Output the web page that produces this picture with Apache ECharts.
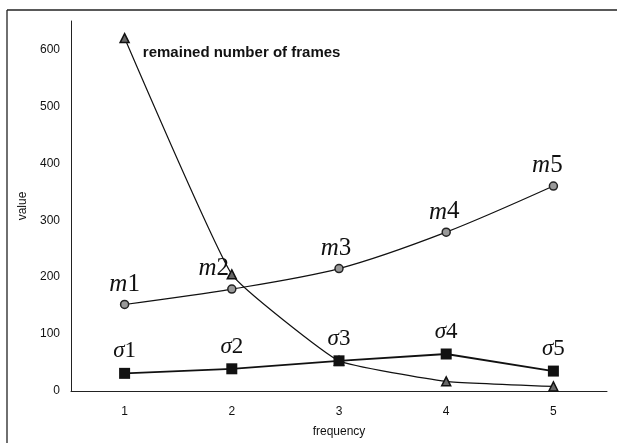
<!DOCTYPE html>
<html>
<head>
<meta charset="utf-8">
<script src="https://cdn.jsdelivr.net/npm/echarts@6/dist/echarts.min.js"></script>
<style>
  html, body { margin: 0; padding: 0; background: #fff; }
  #chart { width: 617px; height: 443px; }
</style>
</head>
<body>
<div id="chart"></div>
<script>
// Frequency levels on the horizontal axis
const frequencies = ['1', '2', '3', '4', '5'];
// Remaining number of frames per frequency
const remainedFrames = [620, 205, 53, 17, 8];
// Mean values m1..m5
const meanValues = [152, 179, 215, 279, 360];
// Standard deviations σ1..σ5
const sigmaValues = [31, 39, 53, 65, 35];
// Point labels
const meanLabels = ['1', '2', '3', '4', '5'];
const sigmaLabels = ['1', '2', '3', '4', '5'];
const meanLabelOffsets = [[0, 0], [-18, 0], [-3, 0], [-2, 0], [-6, 0]];

const chart = echarts.init(document.getElementById('chart'), null, { renderer: 'canvas' });

const serifRich = {
  it: { fontFamily: 'Liberation Serif', fontStyle: 'italic', fontSize: 25, color: '#111' },
  n: { fontFamily: 'Liberation Serif', fontSize: 25, color: '#111' }
};
const sigmaRich = {
  it: { fontFamily: 'Liberation Serif', fontStyle: 'italic', fontSize: 23, color: '#111' },
  n: { fontFamily: 'Liberation Serif', fontSize: 23, color: '#111' }
};

chart.setOption({
  animation: false,
  backgroundColor: '#fff',
  grid: { left: 71, right: 10, top: 21, bottom: 51, containLabel: false },
  graphic: [
    { type: 'line', shape: { x1: 7, y1: 10, x2: 617, y2: 10 }, style: { stroke: '#222', lineWidth: 1.3 } },
    { type: 'line', shape: { x1: 7, y1: 10, x2: 7, y2: 443 }, style: { stroke: '#222', lineWidth: 1.3 } }
  ],
  xAxis: {
    type: 'category',
    data: frequencies,
    boundaryGap: true,
    name: 'frequency',
    nameLocation: 'middle',
    nameGap: 35,
    nameTextStyle: { fontFamily: 'Liberation Sans', fontSize: 12, color: '#111' },
    axisLine: { lineStyle: { color: '#222', width: 1 } },
    axisTick: { show: false },
    axisLabel: { fontFamily: 'Liberation Sans', fontSize: 12, color: '#111', margin: 15 },
    splitLine: { show: false }
  },
  yAxis: {
    type: 'value',
    min: 0,
    max: 650,
    interval: 100,
    name: 'value',
    nameLocation: 'middle',
    nameGap: 38,
    nameTextStyle: { fontFamily: 'Liberation Sans', fontSize: 12, color: '#111' },
    axisLine: { show: true, lineStyle: { color: '#222', width: 1 } },
    axisTick: { show: false },
    axisLabel: { fontFamily: 'Liberation Sans', fontSize: 12, color: '#111', margin: 11, showMaxLabel: false },
    splitLine: { show: false }
  },
  series: [
    {
      name: 'remained number of frames',
      type: 'line',
      data: remainedFrames.map((v, i) => i === 0 ? {
        value: v,
        label: {
          show: true,
          position: 'right',
          offset: [8, 15],
          formatter: 'remained number of frames',
          fontFamily: 'Liberation Sans',
          fontWeight: 'bold',
          fontSize: 15,
          color: '#111'
        }
      } : v),
      smooth: 0.12,
      symbol: 'triangle',
      symbolSize: 9,
      lineStyle: { color: '#111', width: 1.2 },
      itemStyle: { color: '#666', borderColor: '#111', borderWidth: 1.5 },
      z: 3
    },
    {
      name: 'm',
      type: 'line',
      data: meanValues.map((v, i) => ({
        value: v,
        label: {
          show: true,
          position: 'top',
          distance: 3,
          offset: meanLabelOffsets[i],
          formatter: '{it|m}{n|' + meanLabels[i] + '}',
          rich: serifRich
        }
      })),
      smooth: 0.3,
      symbol: 'circle',
      symbolSize: 8,
      lineStyle: { color: '#111', width: 1.2 },
      itemStyle: { color: '#999', borderColor: '#222', borderWidth: 1.5 },
      z: 4
    },
    {
      name: 'σ',
      type: 'line',
      data: sigmaValues.map((v, i) => ({
        value: v,
        label: {
          show: true,
          position: 'top',
          distance: 5,
          formatter: '{it|σ}{n|' + sigmaLabels[i] + '}',
          rich: sigmaRich
        }
      })),
      symbol: 'rect',
      symbolSize: 11,
      lineStyle: { color: '#111', width: 1.8 },
      itemStyle: { color: '#111', borderColor: '#111', borderWidth: 0 },
      z: 5
    }
  ]
});
</script>
</body>
</html>
